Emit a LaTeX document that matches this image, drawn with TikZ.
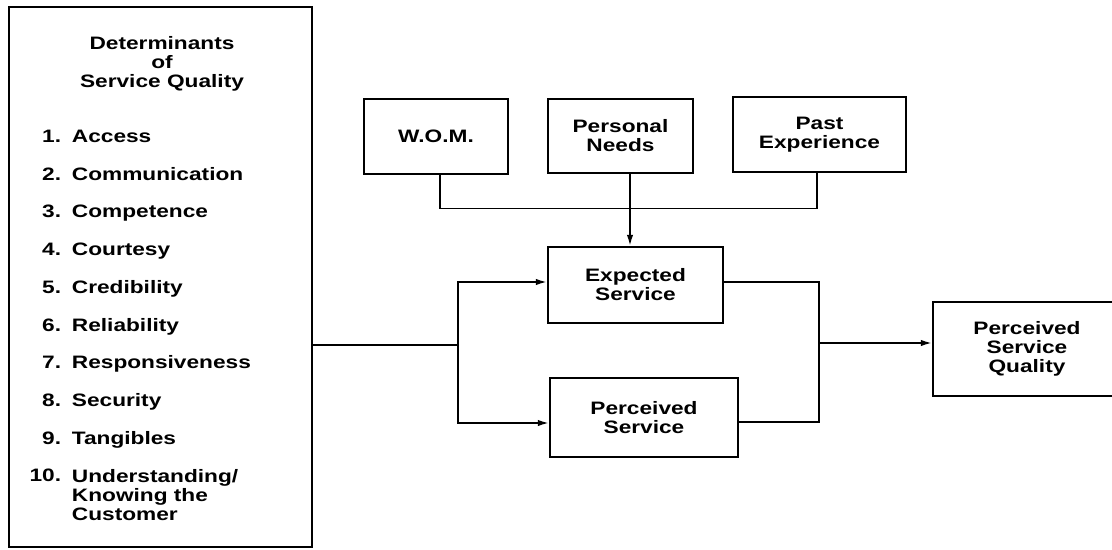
\documentclass[tikz,border=0pt]{standalone}
\usepackage{fontspec}
\setmainfont{Liberation Sans}[FakeStretch=1.26]
\usetikzlibrary{arrows.meta}

\begin{document}
\begin{tikzpicture}[x=0.025cm,y=-0.025cm,line width=1.3pt,
            every node/.style={font=\fontsize{12.8}{13.5}\selectfont\bfseries,inner sep=0pt},
            box/.style={draw,align=center},
            arr/.style={-{Latex[length=2.8mm,width=1.6mm]}}]
            \useasboundingbox (0,0) rectangle (1112,550);
            \node[box,minimum width=7.575cm,minimum height=13.5cm] (det) at (160.5,277) {};
            \node[align=center,anchor=north] (title) at (162,35.5) {Determinants\\of\\Service Quality};
            \foreach \n/\t in {1/Access,2/Communication,3/Competence,4/Courtesy,5/Credibility,
                               6/Reliability,7/Responsiveness,8/Security,9/Tangibles} {
                \node[anchor=base east] (num\n) at (62,{142.5+37.7*(\n-1)}) {\n.};
                \node[anchor=base west] (item\n) at (71,{142.5+37.7*(\n-1)}) {\t};
            }
            \node[anchor=base east] (num10) at (62,481.5) {10.};
            \node[anchor=north west,align=left] (item10) at (71,468.5) {Understanding/\\Knowing the\\Customer};
            \node[box,minimum width=3.6cm,minimum height=1.875cm] (wom) at (436,136.5) {W.O.M.};
            \node[box,minimum width=3.625cm,minimum height=1.85cm] (needs) at (620.5,136) {Personal\\Needs};
            \node[box,minimum width=4.325cm,minimum height=1.875cm] (past) at (819.5,134.5) {Past\\Experience};
            \node[box,minimum width=4.375cm,minimum height=1.9cm] (exp) at (635.5,285) {Expected\\Service};
            \node[box,minimum width=4.7cm,minimum height=1.975cm] (perc) at (644,417.5) {Perceived\\Service};
            \node[box,minimum width=4.7cm,minimum height=2.35cm] (psq) at (1027,349) {Perceived\\Service\\Quality};
            \coordinate (top) at (630,208.5);
            \coordinate (split) at (458,345);
            \coordinate (join) at (819,343);
            \draw ([xshift=0.1cm]wom.south) |- (top) -| ([xshift=-0.06cm]past.south);
            \draw[arr] ([xshift=0.2375cm]needs.south) -- (top |- exp.north);
            \draw (det.east |- split) -- (split);
            \draw[arr] (split) |- ([yshift=0.075cm]exp.west);
            \draw[arr] (split) |- ([yshift=-0.1375cm]perc.west);
            \draw ([yshift=0.075cm]exp.east) -| (join);
            \draw ([yshift=-0.1125cm]perc.east) -| (join);
            \draw[arr] (join) -- (join -| psq.west);
        \end{tikzpicture}
\end{document}
